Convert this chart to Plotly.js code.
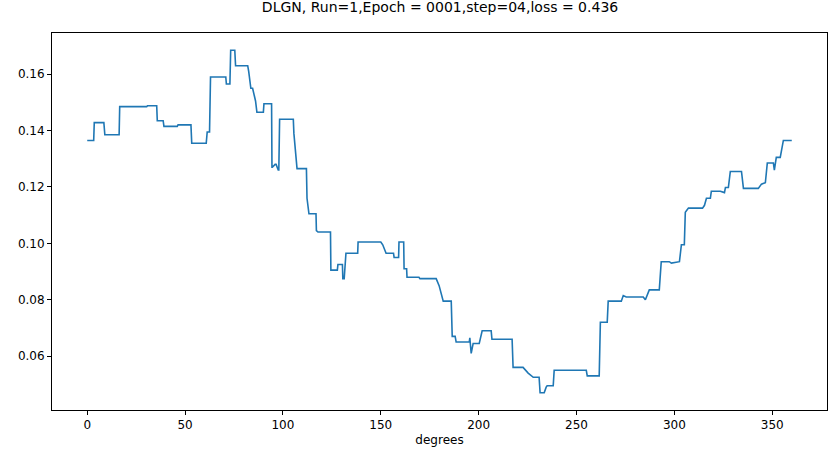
<!DOCTYPE html>
<html>
<head>
<meta charset="utf-8">
<script src="https://cdn.plot.ly/plotly-3.0.1.min.js"></script>
<style>html,body{margin:0;padding:0;background:#fff}#chart{width:835px;height:463px}</style>
</head>
<body>
<div id="chart"></div>
<script>
// flat pieces of the curve: from degree, to degree, value
var segStart = [0, 3.6, 9, 16.6, 30.8, 35.8, 39.2, 46.4, 53.4, 61.3, 63, 71.1, 73.3, 75.8, 82.5, 83.6, 86, 86.7, 90.3, 94.4, 96, 97.6, 98.3, 105.6, 107.2, 112.3, 113.3, 117.1, 117.9, 124.5, 128.1, 130.6, 132.2, 138.4, 151, 152.7, 156.8, 159.3, 161.9, 163.4, 170, 179.8, 181.9, 186.5, 188.5, 195.5, 196.2, 197.2, 201.8, 206.8, 217.6, 225.3, 227.9, 231.4, 234.5, 235, 238.6, 255.5, 262.2, 266.2, 273.9, 275.4, 285.2, 287.2, 293.3, 298.5, 302.6, 303.6, 305.6, 307.2, 315.4, 316.4, 318.9, 325.6, 326.1, 328.6, 335.3, 344.5, 346.5, 347.5, 351.1, 352.1, 355.2, 355.7];
var segEnd = [3.3, 8.5, 16.3, 30.4, 35.5, 38.8, 46, 53, 60.8, 62.5, 70.8, 72.9, 75.4, 82, 82.5, 84.5, 86, 90, 94.2, 94.6, 96.5, 97.9, 105.3, 105.6, 112, 112.3, 116.9, 117.1, 124.3, 127.8, 130.4, 131.3, 138.2, 150, 151, 156.5, 159.1, 161.7, 163.2, 169.5, 178.3, 179.8, 186, 188, 195.2, 195.5, 196.2, 200.3, 206.4, 217.1, 222.7, 225.3, 230.9, 233.5, 234.5, 238.1, 255, 261.6, 265.7, 272.9, 273.9, 284.1, 285.2, 292.3, 297.4, 298.5, 302.6, 305.1, 305.6, 314.4, 315.4, 318.4, 323.5, 325.6, 327.6, 334.3, 342.9, 344.5, 346.5, 350.6, 351.1, 354.1, 355.2, 360];
var segLoss = [0.1365, 0.1428, 0.1385, 0.1485, 0.1488, 0.1435, 0.1415, 0.142, 0.1355, 0.1395, 0.159, 0.1565, 0.1685, 0.163, 0.161, 0.155, 0.1505, 0.1465, 0.1495, 0.127, 0.128, 0.126, 0.144, 0.139, 0.1265, 0.116, 0.1105, 0.1045, 0.104, 0.0905, 0.0925, 0.0875, 0.0965, 0.1005, 0.0995, 0.0965, 0.095, 0.1005, 0.091, 0.088, 0.0875, 0.085, 0.0795, 0.067, 0.065, 0.0665, 0.061, 0.0645, 0.069, 0.066, 0.056, 0.054, 0.0525, 0.047, 0.049, 0.0495, 0.055, 0.053, 0.072, 0.0795, 0.0815, 0.081, 0.080, 0.0835, 0.0935, 0.093, 0.0935, 0.0995, 0.111, 0.1125, 0.1135, 0.116, 0.1185, 0.118, 0.1198, 0.1255, 0.1195, 0.121, 0.1215, 0.1285, 0.126, 0.1305, 0.1355, 0.1365];
var xTicks = [0, 50, 100, 150, 200, 250, 300, 350];
var yTicks = [0.06, 0.08, 0.10, 0.12, 0.14, 0.16];

// build the polyline from the flat pieces
var xs = [], ys = [];
for (var i = 0; i < segStart.length; i++) {
    xs.push(segStart[i], segEnd[i]);
    ys.push(segLoss[i], segLoss[i]);
}

var data = [{
    type: "scatter",
    mode: "lines",
    x: xs,
    y: ys,
    line: {color: "#1f77b4", width: 1.6}
}];

var axisStyle = {
    showgrid: false,
    zeroline: false,
    showline: true,
    mirror: true,
    linecolor: "#000",
    linewidth: 1,
    ticks: "outside",
    ticklen: 4,
    tickcolor: "#000",
    tickfont: {size: 12, color: "#000"}
};

var layout = {
    width: 835,
    height: 463,
    margin: {l: 52, r: 8, t: 33, b: 53},
    paper_bgcolor: "#fff",
    plot_bgcolor: "#fff",
    font: {family: "DejaVu Sans", color: "#000"},
    showlegend: false,
    title: {
        text: "DLGN, Run=1,Epoch = 0001,step=04,loss = 0.436",
        font: {size: 14, color: "#000"},
        x: 0.527, xanchor: "center", y: 0.995, yanchor: "top"
    },
    xaxis: Object.assign({}, axisStyle, {
        range: [-18, 378],
        tickvals: xTicks,
        title: {text: "degrees", font: {size: 12}, standoff: 4}
    }),
    yaxis: Object.assign({}, axisStyle, {
        range: [0.0409, 0.1746],
        tickvals: yTicks,
        tickformat: ".2f"
    })
};

Plotly.newPlot("chart", data, layout, {displayModeBar: false, staticPlot: true});
</script>
</body>
</html>
